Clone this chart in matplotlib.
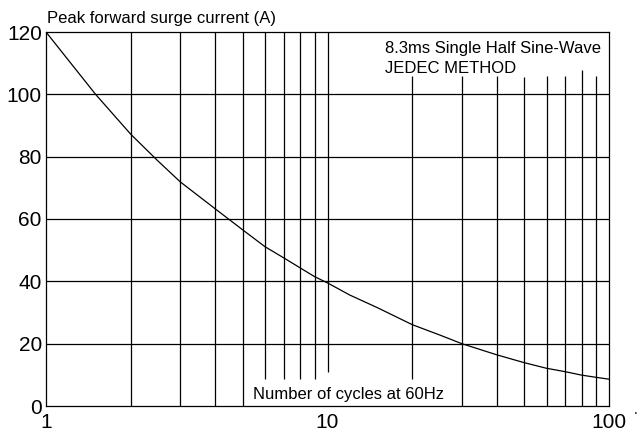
import matplotlib
matplotlib.use('Agg')
import matplotlib.pyplot as plt

plt.rcParams['font.family'] = ['Liberation Sans', 'DejaVu Sans']

# surge curve
cycles = [1, 1.2, 1.5, 2, 2.5, 3, 4, 5, 6, 7, 8, 9, 10, 12, 15, 20, 25, 30,
          40, 50, 60, 70, 80, 90, 100]
current = [120, 111, 100, 87.2, 78.6, 71.9, 63.2, 56.5, 51.1, 47.5, 44.3, 41.5,
           39.5, 35.6, 31.6, 26.1, 22.8, 20, 16.4, 13.9, 12.1, 11, 9.9, 9.2, 8.6]

# vertical grid lines, some cut short around the text
vx = [2, 3, 4, 5, 6, 7, 8, 9, 10, 20, 30, 40, 50, 60, 70, 80, 90]
vlo = [0, 0, 0, 0, 8.7, 8.7, 8.7, 8.7, 10.9, 8.7, 0, 0, 0, 0, 0, 0, 0]
vhi = [120, 120, 120, 120, 120, 120, 120, 120, 120, 106, 106, 106, 105.5, 106, 106, 107.8, 106]
hy = [20, 40, 60, 80, 100]

yticks = [0, 20, 40, 60, 80, 100, 120]
xticks = [1, 10, 100]
xtick_labels = ['1', '10', '100']

fig = plt.figure(figsize=(6.4, 4.36), dpi=100)
ax = fig.add_axes([46/640, 1-406/436, 563/640, 374/436])
ax.set_xscale('log')
ax.set_xlim(1, 100)
ax.set_ylim(0, 120)

ax.vlines(vx, vlo, vhi, colors='black', lw=0.9)
ax.hlines(hy, 1, 100, colors='black', lw=0.9)
ax.plot(cycles, current, color='black', lw=0.9)

for s in ax.spines.values():
    s.set_linewidth(0.9)

ax.set_yticks(yticks)
ax.set_yticklabels([str(v) for v in yticks])
ax.set_xticks(xticks)
ax.set_xticklabels(xtick_labels)
ax.minorticks_off()
ax.tick_params(length=0, labelsize=15, pad=3)
ax.tick_params(axis='x', pad=5)

ax.text(0.002, 1.015, 'Peak forward surge current (A)', transform=ax.transAxes,
        fontsize=12, ha='left', va='bottom')
ax.text(0.603, 0.977, '8.3ms Single Half Sine-Wave', transform=ax.transAxes,
        fontsize=12, ha='left', va='top')
ax.text(0.603, 0.922, 'JEDEC METHOD', transform=ax.transAxes,
        fontsize=12, ha='left', va='top')
ax.text(0.367, 0.03, 'Number of cycles at 60Hz', transform=ax.transAxes,
        fontsize=12, ha='left', va='center')
fig.text(636/640, 1-414/436, '.', fontsize=10, ha='center', va='baseline')

fig.savefig('out.png', dpi=100)
